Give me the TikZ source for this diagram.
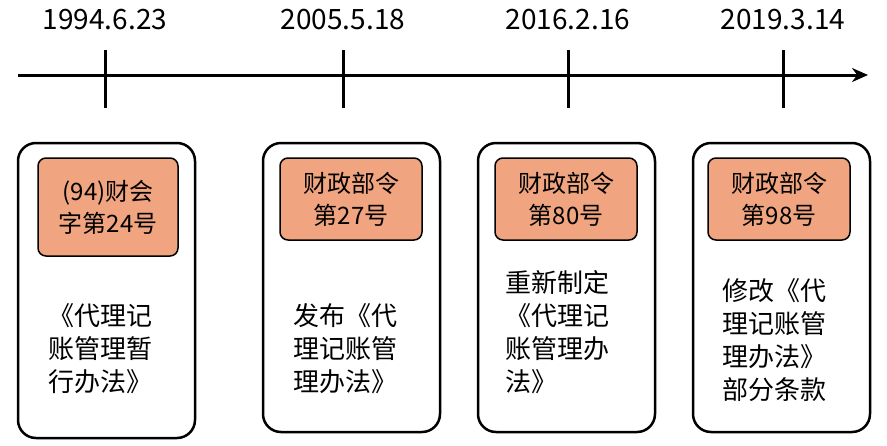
\documentclass[tikz,border=0pt]{standalone}
\usetikzlibrary{arrows.meta}
\usepackage{fontspec}
\setmainfont{Noto Sans CJK SC}
\begin{document}
\begin{tikzpicture}[x=1pt,y=-1pt,
  outer/.style={draw=black,line width=2.5pt,rounded corners=18pt},
  inner/.style={draw=black,line width=1.5pt,fill={rgb,255:red,240;green,164;blue,128},rounded corners=8pt},
  tick/.style={line width=3pt},
  txt/.style={font=\fontsize{26}{33}\selectfont,align=left,anchor=north west,inner sep=0pt},
  ctxt/.style={font=\fontsize{24}{32}\selectfont,align=center,inner sep=0pt},
  date/.style={font=\fontsize{28}{30}\selectfont,inner sep=0pt}]
\useasboundingbox (0,0) rectangle (887,445);
\coordinate (s) at (18,75); \coordinate (e) at (868,75);
\draw[line width=3pt,-{Stealth[length=16pt,width=14pt]}] (s) -- (e);
\foreach \x/\d/\n in {105/1994.6.23/a,343/2005.5.18/b,568/2016.2.16/c,783/2019.3.14/d}{
  \coordinate (t\n1) at (\x,50); \coordinate (t\n2) at (\x,108);
  \draw[tick] (t\n1) -- (t\n2);
  \node[date] (dt\n) at (\x,20) {\d};
}
\draw[outer] (18,143) rectangle (195,438);
\draw[outer] (263,143) rectangle (440,432);
\draw[outer] (478,143) rectangle (655,432);
\draw[outer] (693,143) rectangle (870,432);
\draw[inner] (38,158) rectangle (178,256);
\draw[inner] (280,158) rectangle (422,240);
\draw[inner] (495,158) rectangle (637,240);
\draw[inner] (708,158) rectangle (850,240);
\node[ctxt] (i1) at (108,207) {(94)财会\\字第24号};
\node[ctxt] (i2) at (351,199) {财政部令\\第27号};
\node[ctxt] (i3) at (566,199) {财政部令\\第80号};
\node[ctxt] (i4) at (779,199) {财政部令\\第98号};
\node[txt] (b1) at (48,303) {《代理记\\账管理暂\\行办法》};
\node[txt] (b2) at (293,303) {发布《代\\理记账管\\理办法》};
\node[txt] (b3) at (505,270) {重新制定\\《代理记\\账管理办\\法》};
\node[txt] (b4) at (722,278) {修改《代\\理记账管\\理办法》\\部分条款};
\end{tikzpicture}
\end{document}
